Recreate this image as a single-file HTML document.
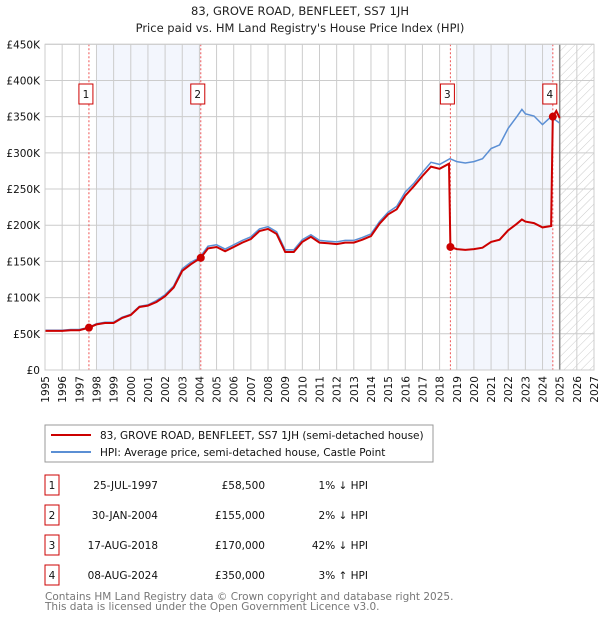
<!DOCTYPE html>
<html><head><meta charset="utf-8"><style>
body{margin:0;background:#fff;}
svg{display:block;font-family:"DejaVu Sans","Liberation Sans",sans-serif;}
</style></head><body>
<svg id="c" width="600" height="620" viewBox="0 0 600 620" xmlns="http://www.w3.org/2000/svg">
<defs><pattern id="hatch" width="6" height="6" patternUnits="userSpaceOnUse" patternTransform="rotate(45)"><line x1="0" y1="0" x2="0" y2="6" stroke="#ccc" stroke-width="1"/></pattern></defs>
<text x="300" y="15" text-anchor="middle" font-size="11.5" fill="#222">83, GROVE ROAD, BENFLEET, SS7 1JH</text>
<text x="300" y="32" text-anchor="middle" font-size="11.5" fill="#222">Price paid vs. HM Land Registry's House Price Index (HPI)</text>
<g id="plot"></g>
<g>
<rect x="45" y="425" width="388" height="37" fill="#fff" stroke="#999"/>
<line x1="51" y1="435" x2="91" y2="435" stroke="#c00" stroke-width="2"/>
<text x="100" y="439" font-size="10.5" fill="#111">83, GROVE ROAD, BENFLEET, SS7 1JH (semi-detached house)</text>
<line x1="51" y1="452" x2="91" y2="452" stroke="#5b8fd4" stroke-width="2"/>
<text x="100" y="456" font-size="10.5" fill="#111">HPI: Average price, semi-detached house, Castle Point</text>
</g>
<g id="table" font-size="10.5" fill="#111"></g>
<text x="45" y="600" font-size="10.5" fill="#777">Contains HM Land Registry data © Crown copyright and database right 2025.</text>
<text x="45" y="610" font-size="10.5" fill="#777">This data is licensed under the Open Government Licence v3.0.</text>
</svg>
<script>
const hpiYears=[1995,1995.5,1996,1996.5,1997,1997.56,1998,1998.5,1999,1999.5,2000,2000.5,2001,2001.5,2002,2002.5,2003,2003.5,2004,2004.5,2005,2005.5,2006,2006.5,2007,2007.5,2008,2008.5,2009,2009.5,2010,2010.5,2011,2011.5,2012,2012.5,2013,2013.5,2014,2014.5,2015,2015.5,2016,2016.5,2017,2017.5,2018,2018.6,2019,2019.5,2020,2020.5,2021,2021.5,2022,2022.5,2022.8,2023,2023.5,2024,2024.5,2025];
const hpiValues=[55,55,55,56,56,59,64,66,66,73,77,88,90,96,104,116,140,149,155,171,173,167,173,179,184,195,198,191,166,166,180,187,179,178,177,179,179,183,188,205,218,226,246,258,273,287,284,292,288,286,288,292,306,311,334,350,360,354,351,339,350,341];
const redYears=[1995,1995.5,1996,1996.5,1997,1997.56,1998,1998.5,1999,1999.5,2000,2000.5,2001,2001.5,2002,2002.5,2003,2003.5,2004.08,2004.5,2005,2005.5,2006,2006.5,2007,2007.5,2008,2008.5,2009,2009.5,2010,2010.5,2011,2011.5,2012,2012.5,2013,2013.5,2014,2014.5,2015,2015.5,2016,2016.5,2017,2017.5,2018,2018.55,2018.63,2019,2019.5,2020,2020.5,2021,2021.5,2022,2022.5,2022.8,2023,2023.5,2024,2024.5,2024.6,2024.8,2025];
const redValues=[54,54,54,55,55,58.5,63,65,65,72,76,87,89,94,102,114,137,146,155,168,170,164,170,176,181,192,195,188,163,163,177,184,176,175,174,176,176,180,185,202,215,222,241,254,268,281,278,285,170,167,166,167,169,177,180,193,202,208,205,203,197,199,350,358,348];
const saleYears=[1997.56,2004.08,2018.63,2024.6];
const saleValues=[58.5,155,170,350];
const saleLabels=["1","2","3","4"];
const saleDates=["25-JUL-1997","30-JAN-2004","17-AUG-2018","08-AUG-2024"];
const salePrices=["£58,500","£155,000","£170,000","£350,000"];
const saleDiffs=["1% ↓ HPI","2% ↓ HPI","42% ↓ HPI","3% ↑ HPI"];
const yTicks=[0,50,100,150,200,250,300,350,400,450];
const yTickLabels=["£0","£50K","£100K","£150K","£200K","£250K","£300K","£350K","£400K","£450K"];
const NS="http://www.w3.org/2000/svg";
const X0=45,X1=594,Y0=370,Y1=44.3;
const x=y=>X0+(y-1995)/(2027-1995)*(X1-X0);
const yv=v=>Y0-v/450*(Y0-Y1);
const plot=document.getElementById('plot');
function mk(tag,attrs,parent){const e=document.createElementNS(NS,tag);for(const k in attrs)e.setAttribute(k,attrs[k]);(parent||plot).appendChild(e);return e;}
let e;
e=mk('rect',{x:x(1998),y:Y1,width:x(2004.08)-x(1998),height:Y0-Y1,fill:'#f3f6fd'});


e=mk('rect',{x:x(2019),y:Y1,width:x(2024.6)-x(2019),height:Y0-Y1,fill:'#f3f6fd'});


e=mk('rect',{x:x(2025),y:Y1,width:X1-x(2025),height:Y0-Y1,fill:'url(#hatch)'});


for(let yr=1995;yr<=2027;yr++){
 e=mk('line',{x1:x(yr),x2:x(yr),y1:Y1,y2:Y0,stroke:'#ccc','stroke-width':1});
 
 
 e=mk('text',{transform:`translate(${x(yr)+4},${Y0+6}) rotate(-90)`,'text-anchor':'end','font-size':10.5,fill:'#111'});
 e.textContent=yr;
 
 
}
yTicks.forEach((t,i)=>{
 e=mk('line',{x1:X0,x2:X1,y1:yv(t),y2:yv(t),stroke:'#ccc','stroke-width':1});
 
 
 e=mk('text',{x:40,y:yv(t)+4,'text-anchor':'end','font-size':10.5,fill:'#111'});
 e.textContent=yTickLabels[i];
 
 
});
e=mk('line',{x1:x(2025),x2:x(2025),y1:Y1,y2:Y0,stroke:'#888','stroke-width':1.5});


saleYears.forEach((s,i)=>{
 e=mk('line',{x1:x(s),x2:x(s),y1:Y1,y2:Y0,stroke:'#e55','stroke-width':1,'stroke-dasharray':'2,2'});
 
 
});
const pts=(xs,vs)=>xs.map((a,i)=>x(a).toFixed(1)+','+yv(vs[i]).toFixed(1)).join(' ');
e=mk('polyline',{points:pts(hpiYears,hpiValues),fill:'none',stroke:'#5b8fd4','stroke-width':1.5});


e=mk('polyline',{points:pts(redYears,redValues),fill:'none',stroke:'#c00','stroke-width':2});


saleYears.forEach((s,i)=>{
 e=mk('circle',{cx:x(s),cy:yv(saleValues[i]),r:4,fill:'#c00'});
 
 
 const bx=x(s)-3;
 e=mk('rect',{x:bx-7,y:84,width:14,height:20,fill:'#fff',stroke:'#c00'});
 
 
 e=mk('text',{x:bx,y:98,'text-anchor':'middle','font-size':10.5,fill:'#111'});
 e.textContent=saleLabels[i];
 
 
});
e=mk('rect',{x:X0,y:Y1,width:X1-X0,height:Y0-Y1,fill:'none',stroke:'#ccc'});


const tb=document.getElementById('table');
const rowY=[485,515,545,575];
saleLabels.forEach((l,i)=>{
 const cy=rowY[i];
 e=mk('rect',{x:45,y:cy-10,width:14,height:20,fill:'#fff',stroke:'#c00'},tb);
 
 
 e=mk('text',{x:52,y:cy+4,'text-anchor':'middle'},tb);e.textContent=l;
 
 
 e=mk('text',{x:158,y:cy+4,'text-anchor':'end'},tb);e.textContent=saleDates[i];
 
 
 e=mk('text',{x:265,y:cy+4,'text-anchor':'end'},tb);e.textContent=salePrices[i];
 
 
 e=mk('text',{x:368,y:cy+4,'text-anchor':'end'},tb);e.textContent=saleDiffs[i];
 
 
});
</script>
</body></html>
